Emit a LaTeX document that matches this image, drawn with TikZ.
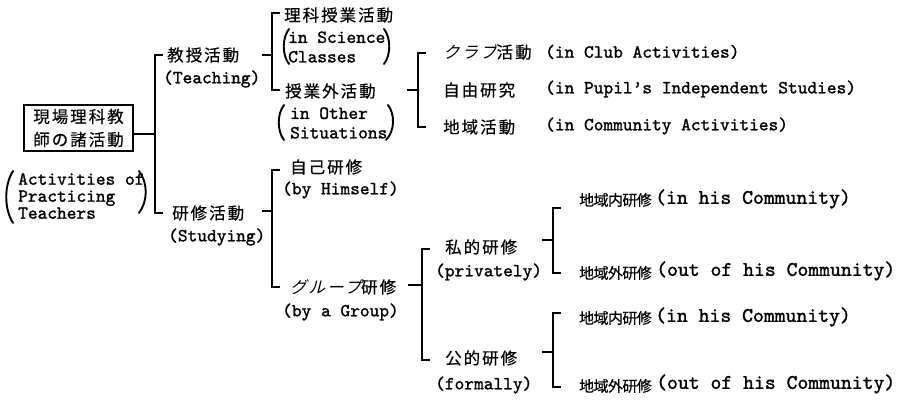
\documentclass[tikz,border=0pt]{standalone}
\usepackage{fontspec}
\usetikzlibrary{calc}
\newfontfamily\jpf[LetterSpace=12,FakeBold=0.4]{Noto Sans CJK JP}
\newfontfamily\jpkf[LetterSpace=12,FakeSlant=0.25]{Noto Sans CJK JP}
\newfontfamily\jpsf[LetterSpace=-4,FakeBold=0.4]{Noto Sans CJK JP}
\newfontfamily\twf[FakeBold=1.3]{lmmono10-regular.otf}
\newcommand\JA{\jpf\fontsize{16.5}{23}\selectfont}
\newcommand\JK{\jpkf\fontsize{16.5}{23}\selectfont}
\newcommand\JS{\jpsf\fontsize{15}{16}\selectfont}
\newcommand\EN{\twf\fontsize{18.5}{19.5}\selectfont}
\newcommand\ENr{\twf\fontsize{18.5}{17}\selectfont}
\newcommand\EL{\twf\fontsize{20.7}{22}\selectfont}
\newcommand\brkt[5]{% #1 name, #2 spine x, #3 top y, #4 bottom y, #5 mid y
  \coordinate (#1-m) at (#2,#5);
  \draw[brk] (#2+8,#3) -- (#2,#3) -- (#2,#4) -- (#2+8,#4);}
\tikzset{
  jt/.style={anchor=west, inner sep=0pt, font=\JA},
  js/.style={anchor=west, inner sep=0pt, font=\JS},
  et/.style={anchor=west, inner sep=0pt, font=\EN, align=left},
  el/.style={anchor=west, inner sep=0pt, font=\EL, align=left},
  brk/.style={line width=2.4pt, line cap=butt, line join=miter},
  prn/.style={line width=1.9pt, line cap=round},
  rootbox/.style={draw, line width=2pt, inner sep=0pt, font=\JA, align=center,
    minimum width=109pt, minimum height=46pt}
}
\begin{document}
\begin{tikzpicture}[x=1pt,y=-1pt]
\useasboundingbox (0,0) rectangle (903,409);
% root
\node[rootbox] (root) at (78.5,128) {現場理科教\\師の諸活動};
\node[et, font=\ENr] (rootE) at (18,196) {Activities of\\Practicing\\Teachers};
\draw[prn] (13,171) .. controls (4,185) and (4,209) .. (13,223);
\draw[prn] (139,171) .. controls (148,183) and (148,201) .. (139,213);
% level 1
\node[jt] (teachJ) at (167,55) {教授活動};
\node[et] (teachE) at (163,79) {(Teaching)};
\node[jt] (studyJ) at (172,213) {研修活動};
\node[et] (studyE) at (168,237) {(Studying)};
% teaching children
\node[jt] (sciJ) at (284,15) {理科授業活動};
\node[et] (sciE) at (288,47) {in Science\\Classes};
\draw[prn] (289,29) .. controls (282,38) and (282,55) .. (289,64);
\draw[prn] (384,29) .. controls (391,38) and (391,55) .. (384,64);
\node[jt] (othJ) at (285,91) {授業外活動};
\node[et] (othE) at (290,123) {in Other\\Situations};
\draw[prn] (284,105) .. controls (277,114) and (277,131) .. (284,140);
\draw[prn] (388,105) .. controls (395,114) and (395,131) .. (386,140);
% other situations children
\node[jt] (clubJ) at (443,52) {{\JK クラブ}活動};
\node[et] (clubE) at (545,52) {(in Club Activities)};
\node[jt] (freeJ) at (443,90) {自由研究};
\node[et] (freeE) at (545,89) {(in Pupil’s Independent Studies)};
\node[jt] (commJ) at (443,127) {地域活動};
\node[et] (commE) at (545,126) {(in Community Activities)};
% studying children
\node[jt] (selfJ) at (290,167) {自己研修};
\node[et] (selfE) at (282,190) {(by Himself)};
\node[jt] (grpJ) at (290,287) {{\JK グループ}研修};
\node[et] (grpE) at (282,312) {(by a Group)};
% group children
\node[jt] (privJ) at (445,247) {私的研修};
\node[et] (privE) at (435,272) {(privately)};
\node[jt] (formJ) at (445,358) {公的研修};
\node[et] (formE) at (435,385) {(formally)};
% privately / formally children
\node[js] (p1J) at (579,200) {地域内研修};
\node[el] (p1E) at (655,199) {(in his Community)};
\node[js] (p2J) at (579,273) {地域外研修};
\node[el] (p2E) at (656,271) {(out of his Community)};
\node[js] (f1J) at (579,318) {地域内研修};
\node[el] (f1E) at (655,317) {(in his Community)};
\node[js] (f2J) at (579,386) {地域外研修};
\node[el] (f2E) at (656,384) {(out of his Community)};
% brackets
\brkt{r}{155}{55}{213}{134}
\draw[brk] (root.east |- r-m) -- (r-m);
\brkt{t}{272}{13}{90}{55}
\coordinate (t0) at (262,55);
\draw[brk] (t0) -- (t-m);
\brkt{o}{418}{53}{127}{90}
\coordinate (o0) at (407,90);
\draw[brk] (o0) -- (o-m);
\brkt{s}{272}{170}{287}{211}
\coordinate (s0) at (262,211);
\draw[brk] (s0) -- (s-m);
\brkt{g}{422}{249}{360}{285}
\coordinate (g0) at (408,285);
\draw[brk] (g0) -- (g-m);
\brkt{p}{553}{208}{273}{240}
\coordinate (p0) at (542,240);
\draw[brk] (p0) -- (p-m);
\brkt{f}{553}{313}{387}{352}
\coordinate (f0) at (542,352);
\draw[brk] (f0) -- (f-m);
\end{tikzpicture}
\end{document}
